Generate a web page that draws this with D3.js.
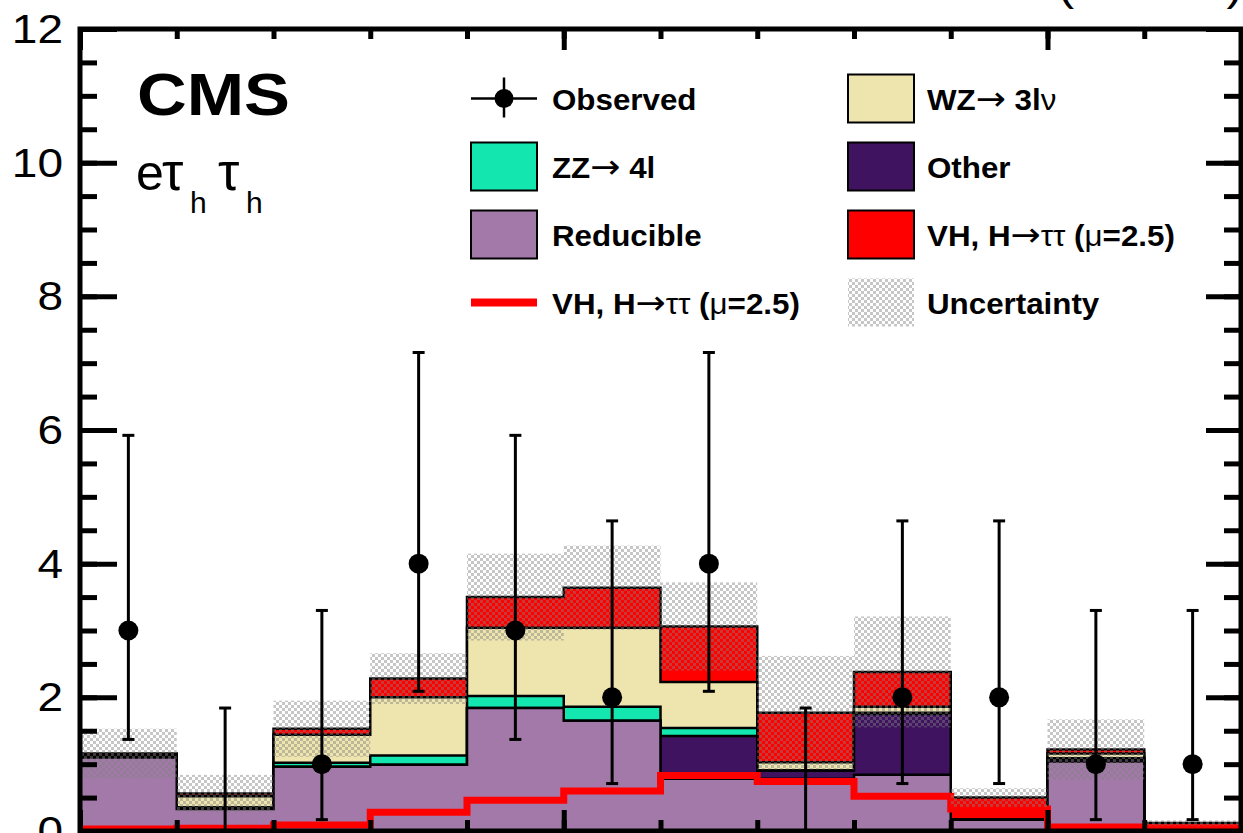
<!DOCTYPE html>
<html>
<head>
<meta charset="utf-8">
<script src="https://cdn.jsdelivr.net/npm/d3@7"></script>
<style>
	html, body { margin: 0; padding: 0; background: #fff; overflow: hidden; }
	svg { display: block; font-family: "Liberation Sans", Arial, sans-serif; }
</style>
</head>
<body>
<svg id="chart"></svg>
<script>
// per-bin yields, 12 bins
const binCount = 12;
const reducible = [1.10, 0.33, 0.96, 0.99, 1.84, 1.65, 0.78, 0.78, 0.84, 0.17, 1.04, 0.04];
const other = [0.01, 0.02, 0.00, 0.00, 0.00, 0.00, 0.64, 0.12, 0.91, 0.00, 0.04, 0.02];
const zz = [0.01, 0.00, 0.06, 0.14, 0.18, 0.21, 0.12, 0.01, 0.02, 0.00, 0.01, 0.00];
const wz = [0.01, 0.17, 0.42, 0.87, 1.02, 1.18, 0.69, 0.12, 0.09, 0.00, 0.07, 0.01];
const vh = [0.03, 0.04, 0.09, 0.28, 0.46, 0.60, 0.83, 0.74, 0.52, 0.33, 0.06, 0.05];
const uncertainty = [0.37, 0.28, 0.42, 0.38, 0.65, 0.63, 0.66, 0.85, 0.83, 0.14, 0.45, 0.04];

const observed = [3, 0, 1, 4, 3, 2, 4, 0, 2, 2, 1, 1];
const observedLow = [1.37, 0, 0.17, 2.09, 1.37, 0.71, 2.09, 0, 0.71, 0.71, 0.17, 0.17];
const observedHigh = [5.92, 1.84, 3.30, 7.16, 5.92, 4.64, 7.16, 1.84, 4.64, 4.64, 3.30, 3.30];

const yMajorTicks = [0, 2, 4, 6, 8, 10, 12];
const xMajorTicks = [0, 5, 10];

const colors = {
	reducible: '#a279a8',
	other: '#3f1360',
	zz: '#14e6b0',
	wz: '#eee4ae',
	vh: '#ff0000',
};

const W = 1243;
const H = 833;
const ARROW = '\u2192';

const svg = d3.select('#chart').attr('width', W).attr('height', H);
const x = d3.scaleLinear().domain([0, binCount]).range([80, 1241]);
const y = d3.scaleLinear().domain([0, 12]).range([831, 29]);

function stepPoints(values) {
	const pts = [];
	values.forEach((v, i) => {
		pts.push([x(i), y(v)]);
		pts.push([x(i + 1), y(v)]);
	});
	return pts;
}

function cumulative(layers) {
	const out = [];
	let running = d3.range(binCount).map(() => 0);
	layers.forEach(layer => {
		running = running.map((r, i) => r + layer[i]);
		out.push(running.slice());
	});
	return out;
}

function addDefs() {
	const pat = svg.append('defs').append('pattern')
		.attr('id', 'unc')
		.attr('width', 6)
		.attr('height', 6)
		.attr('patternUnits', 'userSpaceOnUse');
	[[0, 0], [3, 3]].forEach(p => {
		pat.append('rect')
			.attr('x', p[0]).attr('y', p[1])
			.attr('width', 3).attr('height', 3)
			.attr('fill', '#808080')
			.attr('fill-opacity', 0.45);
	});
}

function drawStack() {
	const layers = [reducible, other, zz, wz, vh];
	const fills = [colors.reducible, colors.other, colors.zz, colors.wz, colors.vh];
	const tops = cumulative(layers);
	const line = d3.line();
	// draw from the total down, each filled from zero
	for (let k = tops.length - 1; k >= 0; k--) {
		const pts = [[x(0), y(0)]].concat(stepPoints(tops[k]), [[x(binCount), y(0)]]);
		svg.append('path')
			.attr('d', line(pts) + 'Z')
			.attr('fill', fills[k])
			.attr('stroke', '#000')
			.attr('stroke-width', 2.5);
	}
	return tops[tops.length - 1];
}

function drawSignalLine() {
	svg.append('path')
		.attr('d', d3.line()(stepPoints(vh)))
		.attr('fill', 'none')
		.attr('stroke', colors.vh)
		.attr('stroke-width', 7);
}

function drawUncertainty(total) {
	svg.append('g').selectAll('rect')
		.data(total)
		.enter()
		.append('rect')
		.attr('x', (d, i) => x(i))
		.attr('width', x(1) - x(0))
		.attr('y', (d, i) => y(d + uncertainty[i]))
		.attr('height', (d, i) => y(Math.max(0, d - uncertainty[i])) - y(d + uncertainty[i]))
		.attr('fill', 'url(#unc)');
}

function drawObserved() {
	const g = svg.append('g');
	const centers = d3.range(binCount).map(i => x(i + 0.5));
	observed.forEach((d, i) => {
		g.append('line')
			.attr('x1', centers[i])
			.attr('x2', centers[i])
			.attr('y1', y(observedLow[i]))
			.attr('y2', y(observedHigh[i]))
			.attr('stroke', '#000')
			.attr('stroke-width', 3);
		g.append('line')
			.attr('x1', centers[i] - 6)
			.attr('x2', centers[i] + 6)
			.attr('y1', y(observedHigh[i]))
			.attr('y2', y(observedHigh[i]))
			.attr('stroke', '#000')
			.attr('stroke-width', 3);
		if (d <= 0) return;
		g.append('line')
			.attr('x1', centers[i] - 6)
			.attr('x2', centers[i] + 6)
			.attr('y1', y(observedLow[i]))
			.attr('y2', y(observedLow[i]))
			.attr('stroke', '#000')
			.attr('stroke-width', 3);
		g.append('circle')
			.attr('cx', centers[i])
			.attr('cy', y(d))
			.attr('r', 10)
			.attr('fill', '#000');
	});
}

function drawAxes() {
	const yMinor = d3.range(0, 12.01, 0.5);
	const xMinor = d3.range(0, binCount + 1);
	const tickStyle = sel => {
		sel.select('.domain').remove();
		sel.selectAll('line').attr('stroke', '#000').attr('stroke-width', 5);
	};
	svg.append('g').attr('transform', `translate(${x(0)},0)`)
		.call(d3.axisRight(y).tickValues(yMinor).tickSize(17).tickFormat(''))
		.call(tickStyle);
	svg.append('g').attr('transform', `translate(${x(0)},0)`)
		.call(d3.axisRight(y).tickValues(yMajorTicks).tickSize(37).tickFormat(''))
		.call(tickStyle);
	svg.append('g').attr('transform', `translate(${x(binCount)},0)`)
		.call(d3.axisLeft(y).tickValues(yMinor).tickSize(17).tickFormat(''))
		.call(tickStyle);
	svg.append('g').attr('transform', `translate(${x(binCount)},0)`)
		.call(d3.axisLeft(y).tickValues(yMajorTicks).tickSize(35).tickFormat(''))
		.call(tickStyle);
	svg.append('g').attr('transform', `translate(0,${y(0)})`)
		.call(d3.axisTop(x).tickValues(xMinor).tickSize(11).tickFormat(''))
		.call(tickStyle);
	svg.append('g').attr('transform', `translate(0,${y(0)})`)
		.call(d3.axisTop(x).tickValues(xMajorTicks).tickSize(21).tickFormat(''))
		.call(tickStyle);
	svg.append('g').attr('transform', `translate(0,${y(12)})`)
		.call(d3.axisBottom(x).tickValues(xMinor).tickSize(10).tickFormat(''))
		.call(tickStyle);
	svg.append('g').attr('transform', `translate(0,${y(12)})`)
		.call(d3.axisBottom(x).tickValues(xMajorTicks).tickSize(21).tickFormat(''))
		.call(tickStyle);

	// tick labels
	svg.append('g').selectAll('text')
		.data(yMajorTicks)
		.enter()
		.append('text')
		.attr('transform', d => `translate(63,${y(d) + 14}) scale(1.15,1)`)
		.attr('text-anchor', 'end')
		.attr('font-size', 40)
		.text(d => d);

	svg.append('rect')
		.attr('x', x(0))
		.attr('y', y(12))
		.attr('width', x(binCount) - x(0))
		.attr('height', y(0) - y(12))
		.attr('fill', 'none')
		.attr('stroke', '#000')
		.attr('stroke-width', 5);
}

function richText(px, py, sx, size, parts, anchor) {
	const t = svg.append('text')
		.attr('transform', `translate(${px},${py}) scale(${sx},1)`)
		.attr('font-size', size)
		.attr('text-anchor', anchor || 'start');
	parts.forEach(p => {
		const span = t.append('tspan')
			.attr('font-weight', p[1] ? 'bold' : 'normal')
			.text(p[0]);
		// the arrow reads better in DejaVu, closer to the symbol font look
		if (p[0] === ARROW) span.attr('font-family', 'DejaVu Sans').attr('font-size', size * 1.15);
	});
	return t;
}

function drawLegend() {
	const rows = [98.5, 166.5, 234.5, 302.5];
	const col1 = 471;
	const col2 = 848;
	const boxW = 66;
	const boxH = 48;

	// Observed
	svg.append('line').attr('x1', col1).attr('x2', col1 + boxW)
		.attr('y1', rows[0]).attr('y2', rows[0])
		.attr('stroke', '#000').attr('stroke-width', 2.5);
	svg.append('line').attr('x1', col1 + boxW / 2).attr('x2', col1 + boxW / 2)
		.attr('y1', rows[0] - 21).attr('y2', rows[0] + 19)
		.attr('stroke', '#000').attr('stroke-width', 2.5);
	svg.append('circle').attr('cx', col1 + boxW / 2).attr('cy', rows[0])
		.attr('r', 9.5).attr('fill', '#000');

	const boxes = [
		[col1, rows[1], colors.zz],
		[col1, rows[2], colors.reducible],
		[col2, rows[0], colors.wz],
		[col2, rows[1], colors.other],
		[col2, rows[2], colors.vh],
	];
	boxes.forEach(b => {
		svg.append('rect')
			.attr('x', b[0]).attr('y', b[1] - boxH / 2)
			.attr('width', boxW).attr('height', boxH)
			.attr('fill', b[2])
			.attr('stroke', '#000')
			.attr('stroke-width', 2);
	});
	svg.append('rect')
		.attr('x', col2).attr('y', rows[3] - boxH / 2)
		.attr('width', boxW).attr('height', boxH)
		.attr('fill', 'url(#unc)');
	svg.append('line').attr('x1', col1).attr('x2', col1 + boxW)
		.attr('y1', rows[3]).attr('y2', rows[3])
		.attr('stroke', colors.vh).attr('stroke-width', 8);

	const tx1 = 552;
	const tx2 = 927;
	const sx = 1.08;
	const fs = 29;
	const vhLabel = [['VH, H', true], [ARROW, false], ['\u03c4\u03c4', false], [' (', true], ['\u03bc', false], ['=2.5)', true]];
	richText(tx1, rows[0] + 11, sx, fs, [['Observed', true]]);
	richText(tx1, rows[1] + 11, sx, fs, [['ZZ', true], [ARROW, false], [' 4l', true]]);
	richText(tx1, rows[2] + 11, sx, fs, [['Reducible', true]]);
	richText(tx1, rows[3] + 11, sx, fs, vhLabel);
	richText(tx2, rows[0] + 11, sx, fs, [['WZ', true], [ARROW, false], [' 3l', true], ['\u03bd', false]]);
	richText(tx2, rows[1] + 11, sx, fs, [['Other', true]]);
	richText(tx2, rows[2] + 11, sx, fs, vhLabel);
	richText(tx2, rows[3] + 11, sx, fs, [['Uncertainty', true]]);
}

function drawLabels() {
	svg.append('text')
		.attr('x', 137)
		.attr('y', 115)
		.attr('font-size', 60)
		.attr('font-weight', 'bold')
		.attr('textLength', 153)
		.attr('lengthAdjust', 'spacingAndGlyphs')
		.text('CMS');

	const chan = svg.append('text').attr('font-size', 50);
	chan.append('tspan').attr('x', 136).attr('y', 190).text('e');
	chan.append('tspan').attr('x', 162).attr('y', 190).attr('font-size', 54).text('\u03c4');
	chan.append('tspan').attr('x', 190).attr('y', 213).attr('font-size', 30).text('h');
	chan.append('tspan').attr('x', 218).attr('y', 190).attr('font-size', 54).text('\u03c4');
	chan.append('tspan').attr('x', 246).attr('y', 213).attr('font-size', 30).text('h');

	richText(1243, 0, 1.12, 44, [['35.9 fb\u207b\u00b9 (13 TeV)', false]], 'end');
}

function render() {
	addDefs();
	const total = drawStack();
	drawSignalLine();
	drawUncertainty(total);
	drawObserved();
	drawAxes();
	drawLegend();
	drawLabels();
}

render();
</script>
</body>
</html>
